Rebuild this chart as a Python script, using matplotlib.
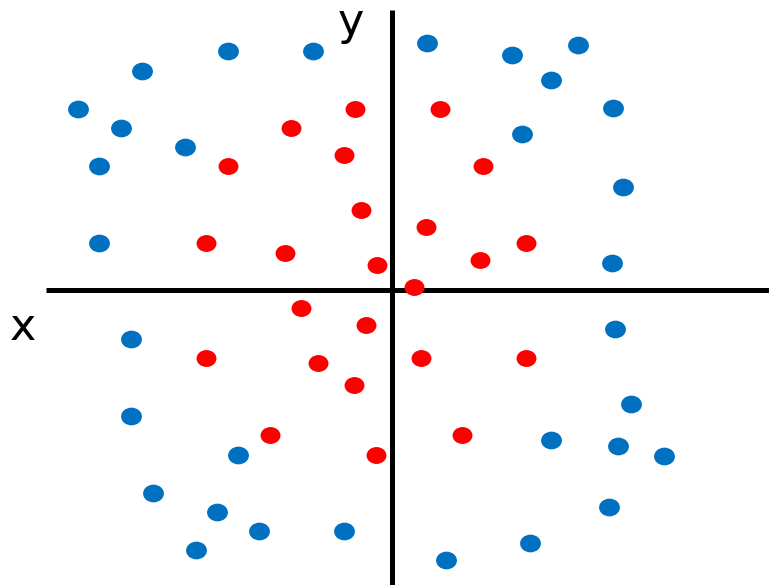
import matplotlib
matplotlib.use("Agg")
import matplotlib.pyplot as plt
from matplotlib.path import Path
from matplotlib.transforms import Affine2D

# points, origin at the axes crossing, y up
blue_x = [-250, -164, -79, -314, -271, -207, -293, -293, 35, 120, 186, 159,
          221, 130, 231, 220, -261, -261, -154, -239, -175, -133, -196, -48,
          223, 239, 159, 226, 272, 217, 138, 54]
blue_y = [219, 239, 239, 181, 162, 143, 124, 47, 247, 235, 245, 210,
          182, 156, 103, 27, -49, -126, -165, -203, -222, -241, -260, -241,
          -39, -114, -150, -156, -166, -217, -253, -270]

red_x = [-37, -101, 48, -164, -48, 91, -31, 34, -186, -107, 134, 88,
         -15, 22, -91, -26, -186, -74, 29, 134, -38, -122, 70, -16]
red_y = [181, 162, 181, 124, 135, 124, 80, 63, 47, 37, 47, 30,
         25, 3, -18, -35, -68, -73, -68, -68, -95, -145, -145, -165]

blue = "#0070c0"
red = "#ff0000"

# slightly flattened dots
oval = Path.unit_circle().transformed(Affine2D().scale(1, 0.85))

fig = plt.figure(figsize=(7.69, 5.85), dpi=100)
ax = fig.add_axes([0, 0, 1, 1])
ax.set_xlim(-392, 377)
ax.set_ylim(-295, 290)
ax.axis("off")

ax.plot([-346, 377], [0, 0], color="black", lw=3.6, solid_capstyle="butt", zorder=1)
ax.plot([0, 0], [-295, 280], color="black", lw=3.6, solid_capstyle="butt", zorder=1)

ax.scatter(blue_x, blue_y, s=225, marker=oval, color=blue, linewidths=0, zorder=2)
ax.scatter(red_x, red_y, s=205, marker=oval, color=red, linewidths=0, zorder=2)

ax.text(-41, 268, "y", fontsize=32, ha="center", va="center", color="black")
ax.text(-369, -38, "x", fontsize=32, ha="center", va="center", color="black")

fig.savefig("out.png", dpi=100)
